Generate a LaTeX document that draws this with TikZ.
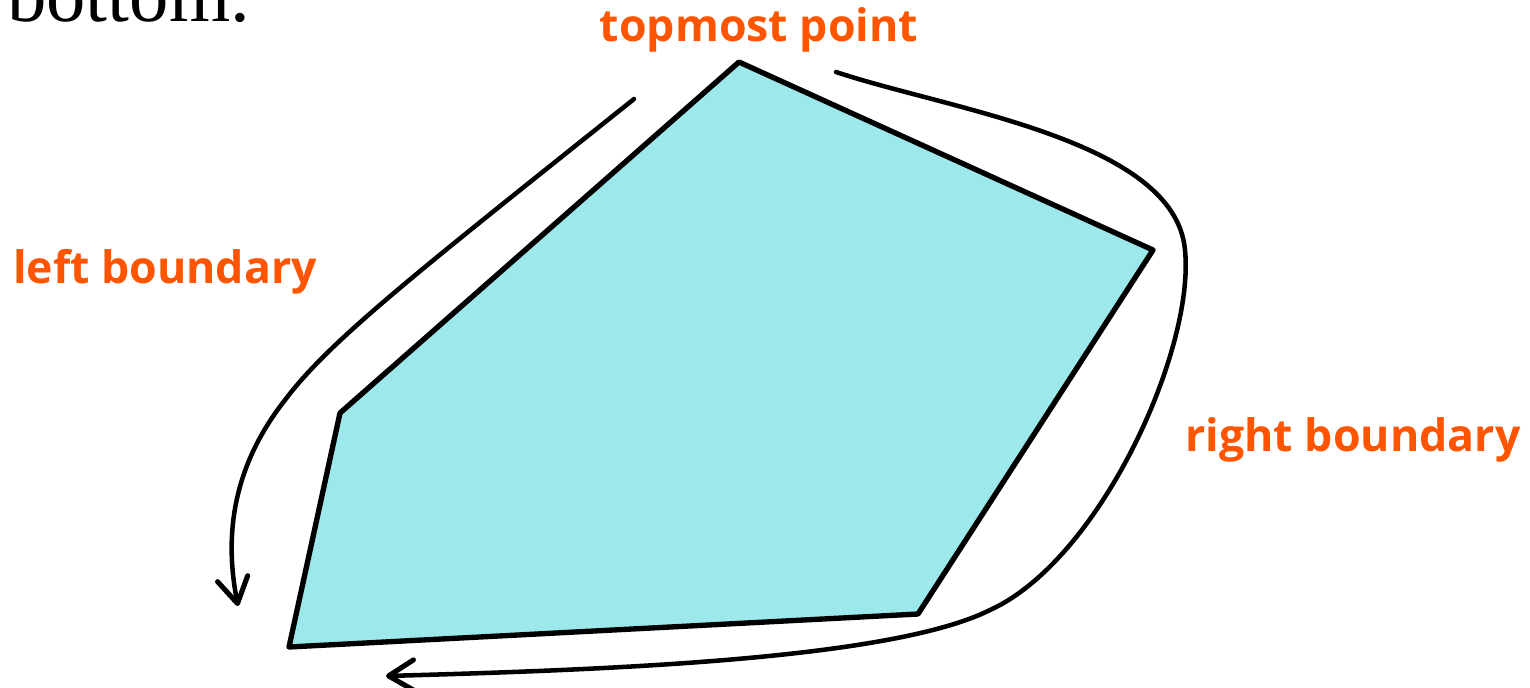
\documentclass[tikz,border=0pt]{standalone}
\usepackage{fontspec}
\setmainfont{Liberation Serif}
\newfontfamily\labelfont{Open Sans}
\usetikzlibrary{arrows.meta}
\definecolor{hullfill}{HTML}{9DE8EA}
\definecolor{labelorange}{HTML}{FF5500}
\tikzset{
  hull/.style={draw=black, line width=4pt, fill=hullfill, line join=round},
  bound/.style={draw=black, line width=3.4pt, line cap=round, -{Straight Barb[length=19pt,width=23pt,line width=3.8pt,round]}},
  lbl/.style={text=labelorange, font=\labelfont\bfseries\fontsize{33.5}{38}\selectfont, inner sep=0pt}
}
\begin{document}
\begin{tikzpicture}[x=0.75pt,y=-0.75pt]
\useasboundingbox (0,0) rectangle (1530,687);
\node[anchor=base west, inner sep=0pt, font=\fontsize{59}{64}\selectfont] (prev) at (7,21) {bottom.};
\coordinate (t) at (739,62);
\coordinate (r) at (1153,250);
\coordinate (br) at (918,614);
\coordinate (bl) at (289,647);
\coordinate (l) at (340,413);
\path[hull] (t) -- (r) -- (br) -- (bl) -- (l) -- cycle;
\coordinate (ls) at (634,99);
\coordinate (le) at (238,606);
\coordinate (rs) at (836,72);
\coordinate (re) at (386,676);
\draw[bound] (ls) .. controls (420,270) and (330,340) .. (285,400) .. controls (230,470) and (225,540) .. (le);
\draw[bound] (rs) .. controls (950,110) and (1175,140) .. (1185,250) .. controls (1195,350) and (1100,560) .. (990,610) .. controls (890,660) and (600,670) .. (re);
\node[lbl] (top) at (759,30) {topmost point};
\node[lbl] (left) at (165,272) {left boundary};
\node[lbl] (right) at (1353,440) {right boundary};
\end{tikzpicture}
\end{document}
